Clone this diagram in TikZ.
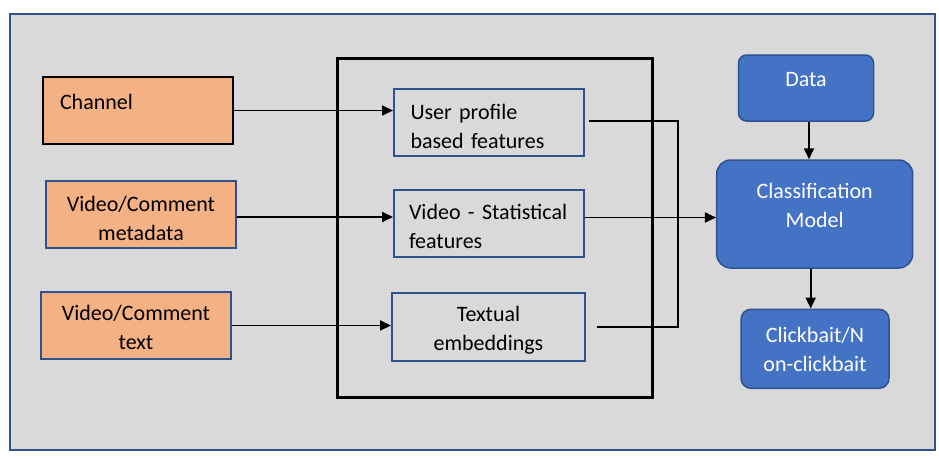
\documentclass[tikz,border=0pt]{standalone}
\usepackage{fontspec}
\setmainfont{Carlito}
\usetikzlibrary{arrows.meta}
\definecolor{bgfill}{HTML}{D9D9D9}
\definecolor{blueline}{HTML}{2F528F}
\definecolor{srcfill}{HTML}{F4B183}
\definecolor{modelfill}{HTML}{4472C4}

\begin{document}
\begin{tikzpicture}[x=1pt,y=-1pt,font=\fontsize{22}{29}\selectfont,
  src/.style={draw=blueline,line width=2pt,fill=srcfill,minimum width=190pt,inner sep=0pt,align=center,text height=59pt,text depth=8pt},
  feat/.style={draw=blueline,line width=2pt,minimum width=190pt,inner sep=0pt,text height=30pt,text depth=37pt},
  model/.style={draw=blueline,line width=1.5pt,fill=modelfill,text=white,rounded corners=8pt,inner sep=0pt,align=center},
  conn/.style={line width=1.8pt},
  arr/.style={conn,-{Triangle[length=11pt,width=10pt]}}]
  \useasboundingbox (0,0) rectangle (939,458);
  \fill[white] (0,0) rectangle (939,458);
  \draw[draw=blueline,fill=bgfill,line width=2pt] (10,14) rectangle (935,450);
  \draw[line width=3pt] (337,58) rectangle (652,397);
  \node[src,draw=black,text height=32.3pt,text depth=34.7pt,inner xsep=17pt,text width=156pt,align=left] (ch) at (138,110.5) {Channel};
  \node[src] (meta) at (141,214.5) {Video/Comment\\metadata};
  \node[src,text height=57.3pt,text depth=9.7pt] (txt) at (136,325.5) {Video/Comment\\text};
  \node[feat,text width=157pt,inner xsep=16.5pt,align=left] (up) at (489,122.5) {User profile\\based features};
  \node[feat,text width=160pt,inner xsep=15pt,align=left,text height=29pt,text depth=38pt] (stat) at (489,223.5) {Video - Statistical\\features};
  \node[feat,minimum width=193pt,align=center,text height=57pt,text depth=11pt] (emb) at (488.5,327) {Textual\\embeddings};
  \node[model,minimum width=135pt,text height=31.7pt,text depth=34.3pt] (data) at (806,88) {Data};
  \node[model,rounded corners=14pt,minimum width=196pt,text height=67.3pt,text depth=40.7pt] (cls) at (814.7,214) {Classification\\Model};
  \node[model,rounded corners=10pt,minimum width=148pt,text height=62.4pt,text depth=16.6pt] (out) at (815,348.8) {Clickbait/N\\on-clickbait};
  \draw[arr] (ch.east) -- (ch.east -| up.west);
  \draw[arr] ([yshift=-2.5pt]meta.east) -- ([yshift=-2.5pt]meta.east -| stat.west);
  \draw[arr] (txt.east) -- (txt.east -| emb.west);
  \draw[conn] ([xshift=4pt,yshift=1.5pt]up.east) -- ++(89,0) |- ([xshift=11pt]emb.east);
  \draw[arr] ([yshift=6pt]stat.east) -- ([yshift=6pt]stat.east -| cls.west);
  \draw[arr] ([xshift=3pt]data.south) -- ([xshift=3pt]data.south |- cls.north);
  \draw[arr] ([xshift=-4pt]cls.south) -- ([xshift=-4pt]cls.south |- out.north);
\end{tikzpicture}
\end{document}
